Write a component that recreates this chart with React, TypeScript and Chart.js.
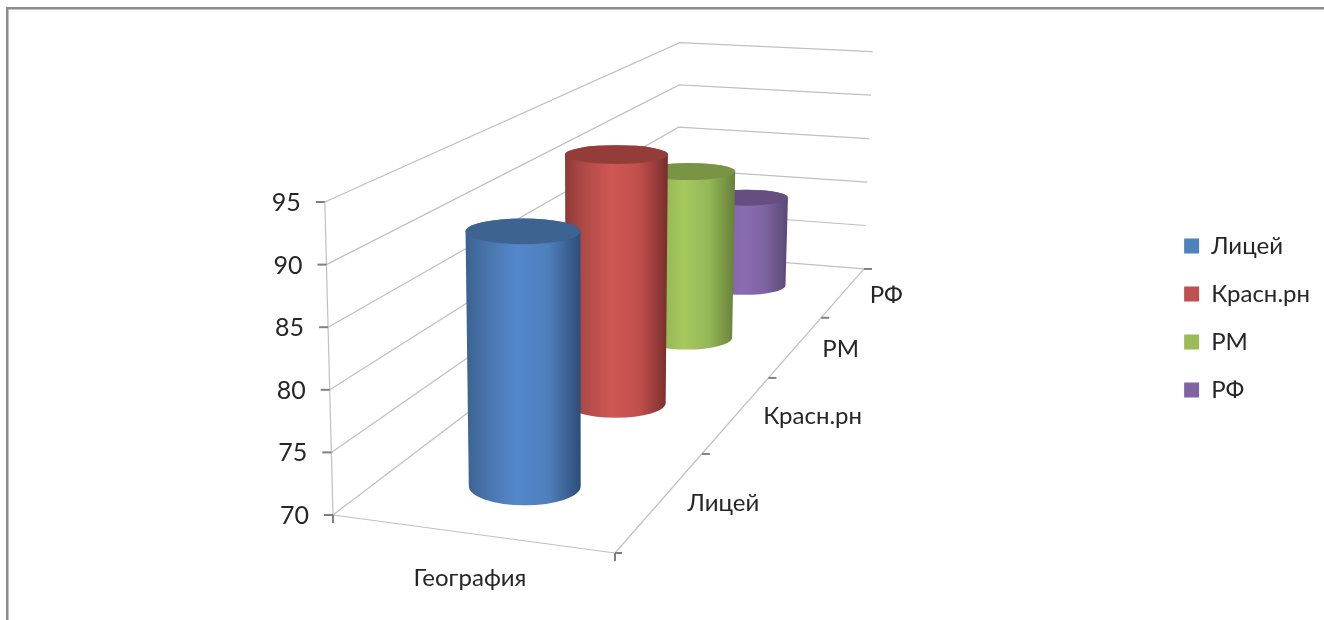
import React, { useEffect, useRef } from "react";
import { Chart, registerables } from "chart.js";

Chart.register(...registerables);

const categories = ["География"];
const seriesNames = ["Лицей", "Красн.рн", "РМ", "РФ"];
const liceyValues = [91.1];
const krasnValues = [93.0];
const rmValues = [87.0];
const rfValues = [79.8];
const seriesValues = [liceyValues, krasnValues, rmValues, rfValues];
const seriesColors = ["#4f81bd", "#c0504d", "#9bbb59", "#8064a2"];
const sideStops = [
  ["#3a618f", "#4a76ae", "#5487cb", "#4e7fbd", "#2d4d76"],
  ["#8e3a38", "#b24b48", "#cf5754", "#c24f4c", "#772e2c"],
  ["#76923f", "#93b452", "#a5c95f", "#95b755", "#66803a"],
  ["#5d4a7d", "#7a5f9e", "#8b6cb2", "#7f64a3", "#5a4875"],
];
const topColors = ["#3d6491", "#933c3a", "#7a9445", "#664f80"];

const FONT = "Lato, 'Open Sans', sans-serif";
const TEXT = "#262626";
const GRID = "#c0c0c0";
const TICK = "#808080";

// Floor homography (u across, v into the page)
const gU = -0.0506;
const hV = 0.5754;
const project = (u: number, v: number, z: number) => {
  const W = 1 + gU * u + hV * v;
  const xf = (333 + 250.9 * u + 733.5 * v) / W;
  const yf = (515 + 10 * u - 114.9 * v) / W;
  return {
    x: xf + z * (xf - 590) * 0.032,
    y: yf - (z * 313) / Math.pow(W, 0.865),
  };
};

const line = (ctx: CanvasRenderingContext2D, pts: { x: number; y: number }[], color: string, width: number) => {
  ctx.beginPath();
  pts.forEach((p, i) => (i ? ctx.lineTo(p.x, p.y) : ctx.moveTo(p.x, p.y)));
  ctx.strokeStyle = color;
  ctx.lineWidth = width;
  ctx.stroke();
};

const scene = {
  id: "scene",
  beforeDraw(chart: any) {
    const { ctx } = chart;
    ctx.save();
    ctx.fillStyle = "#ffffff";
    ctx.fillRect(0, 0, chart.width, chart.height);
    ctx.fillStyle = "#8c8c8c";
    ctx.fillRect(6, 7, chart.width - 6, 2.5);
    ctx.fillRect(6, 7, 2.5, chart.height - 7);
    ctx.restore();
  },
  beforeDatasetsDraw(chart: any) {
    const { ctx } = chart;
    const yS = chart.scales.y;
    const zOf = (val: number) => (yS.bottom - yS.getPixelForValue(val)) / (yS.bottom - yS.top);
    ctx.save();
    // walls
    yS.ticks.forEach((t: any) => {
      const z = zOf(t.value);
      line(ctx, [project(0, 0, z), project(0, 1, z), project(1, 1, z)], GRID, 1.2);
    });
    // axes
    line(ctx, [project(0, 0, 0), project(0, 0, 1)], GRID, 1.2);
    line(ctx, [project(0, 0, 0), project(1, 0, 0)], GRID, 1.2);
    line(ctx, [project(1, 0, 0), project(1, 1, 0)], GRID, 1.2);
    // value ticks and labels
    ctx.font = `25px ${FONT}`;
    ctx.fillStyle = TEXT;
    ctx.textAlign = "right";
    ctx.textBaseline = "middle";
    yS.ticks.forEach((t: any) => {
      const p = project(0, 0, zOf(t.value));
      line(ctx, [{ x: p.x - 9, y: p.y }, p], TICK, 2);
      ctx.fillText(String(t.value), p.x - 24, p.y + 1);
    });
    // front ticks
    [0, 1].forEach((u) => {
      const p = project(u, 0, 0);
      line(ctx, [p, { x: p.x, y: p.y + 8 }], TICK, 2);
    });
    // depth ticks and labels
    seriesNames.forEach((_, i) => {
      const p = project(1, (i + 1) / seriesNames.length, 0);
      line(ctx, [p, { x: p.x + 8, y: p.y }], TICK, 2);
    });
    const p0 = project(1, 0, 0);
    line(ctx, [p0, { x: p0.x + 7, y: p0.y }], TICK, 2);
    ctx.font = `24px ${FONT}`;
    ctx.textAlign = "left";
    seriesNames.forEach((name, i) => {
      const p = project(1, (i + 0.5) / seriesNames.length, 0);
      ctx.fillText(name, p.x + 26, p.y + 3);
    });
    // cylinders, back to front
    const uc = 0.507;
    const ru = 0.21;
    const dv = 0.05;
    for (let i = chart.data.datasets.length - 1; i >= 0; i--) {
      const v = (i + 0.5) / chart.data.datasets.length - 0.008;
      const z = zOf(chart.data.datasets[i].data[0]);
      const ell = (h: number) => {
        const c = project(uc, v, h);
        const l = project(uc - ru, v, h);
        const r = project(uc + ru, v, h);
        const ry = (project(uc, v - dv, h).y - project(uc, v + dv, h).y) / 2;
        return { cx: (l.x + r.x) / 2, cy: c.y, rx: (r.x - l.x) / 2, ry };
      };
      const b = ell(0);
      const t = ell(z);
      const left = Math.min(b.cx - b.rx, t.cx - t.rx);
      const right = Math.max(b.cx + b.rx, t.cx + t.rx);
      const g = ctx.createLinearGradient(left, 0, right, 0);
      const stops = sideStops[i];
      [0, 0.2, 0.45, 0.72, 1].forEach((s, k) => g.addColorStop(s, stops[k]));
      ctx.beginPath();
      ctx.moveTo(b.cx - b.rx, b.cy);
      ctx.ellipse(b.cx, b.cy, b.rx, b.ry, 0, Math.PI, 0, true);
      ctx.lineTo(t.cx + t.rx, t.cy);
      ctx.ellipse(t.cx, t.cy, t.rx, t.ry, 0, 0, Math.PI, true);
      ctx.closePath();
      ctx.fillStyle = g;
      ctx.fill();
      ctx.beginPath();
      ctx.ellipse(t.cx, t.cy, t.rx, t.ry, 0, 0, Math.PI * 2);
      ctx.fillStyle = topColors[i];
      ctx.fill();
    }
    ctx.restore();
  },
  beforeDatasetDraw() {
    return false;
  },
};

export default function App() {
  const ref = useRef<HTMLCanvasElement | null>(null);
  useEffect(() => {
    const chart = new Chart(ref.current as HTMLCanvasElement, {
      type: "bar",
      data: {
        labels: categories,
        datasets: seriesNames.map((label, i) => ({
          label,
          data: seriesValues[i],
          backgroundColor: seriesColors[i],
          yAxisID: "y",
          xAxisID: "x",
        })),
      },
      plugins: [scene],
      options: {
        animation: false,
        responsive: false,
        devicePixelRatio: 1,
        layout: { padding: { top: 16, right: 4, left: 0, bottom: 0 } },
        plugins: {
          tooltip: { enabled: false },
          legend: {
            position: "right",
            labels: {
              boxWidth: 15,
              boxHeight: 15,
              padding: 24,
              color: TEXT,
              font: { family: FONT, size: 24 },
            },
          },
        },
        scales: {
          x: {
            position: "bottom",
            grid: { display: false },
            border: { display: false },
            ticks: { color: TEXT, padding: 41, font: { family: FONT, size: 24 } },
            afterFit: (s: any) => {
              s.height = 105;
            },
          },
          y: {
            position: "left",
            min: 70,
            max: 95,
            grid: { display: false },
            border: { display: false },
            ticks: { stepSize: 5, display: false },
            afterFit: (s: any) => {
              s.width = 333;
            },
          },
          xTop: {
            axis: "x",
            type: "linear",
            position: "top",
            grid: { display: false },
            border: { display: false },
            ticks: { display: false },
            afterFit: (s: any) => {
              s.height = 183;
            },
          },
          yRight: {
            axis: "y",
            type: "linear",
            position: "right",
            grid: { display: false },
            border: { display: false },
            ticks: { display: false },
            afterFit: (s: any) => {
              const lw = s.chart.legend ? s.chart.legend.width : 180;
              s.width = 1320 - lw - 607;
            },
          },
        },
      },
    } as any);
    return () => chart.destroy();
  }, []);
  return (
    <div style={{ position: "absolute", left: 0, top: 0, width: 1324, height: 620 }}>
      <canvas ref={ref} width={1324} height={620} style={{ display: "block" }} />
    </div>
  );
}
